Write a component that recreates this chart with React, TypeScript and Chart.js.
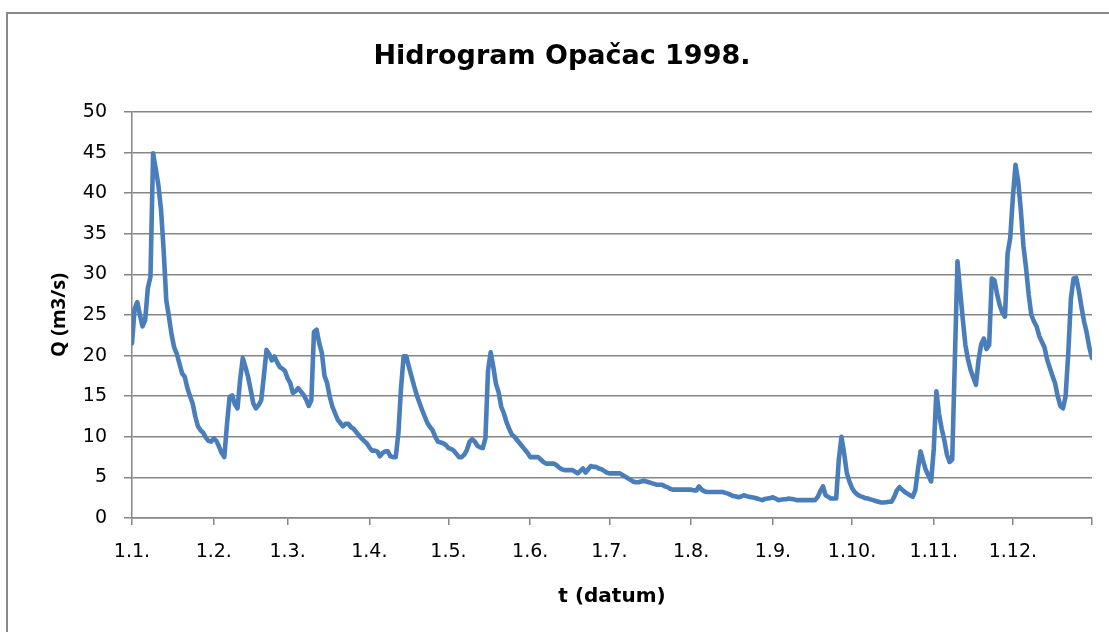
import React, { useEffect, useRef } from 'react';
import { Chart, registerables } from 'chart.js';

Chart.register(...registerables);

const CHART_TITLE = 'Hidrogram Opačac 1998.';
const X_TITLE = 't (datum)';
const Y_TITLE = 'Q (m3/s)';

// Day-of-year index (0 = 1 Jan) where each month starts; last entry = 31 Dec (axis end)
const monthStartDays = [0, 31, 59, 90, 120, 151, 181, 212, 243, 273, 304, 334, 364];
const monthLabels = ['1.1.', '1.2.', '1.3.', '1.4.', '1.5.', '1.6.', '1.7.', '1.8.', '1.9.', '1.10.', '1.11.', '1.12.', ''];

const yMin = 0;
const yMax = 50;
const yStep = 5;

// Daily discharge Q (m3/s), 1 Jan – 31 Dec 1998
const flow = [
  21.5, 25.8, 26.6, 25.0, 23.6, 24.4, 28.3, 29.7, 44.9, 43.0,
  41.0, 38.0, 33.0, 26.8, 24.8, 22.6, 21.0, 20.2, 19.0, 17.8,
  17.4, 16.0, 15.0, 14.1, 12.5, 11.3, 10.8, 10.5, 9.9, 9.5,
  9.4, 9.8, 9.5, 8.8, 8.0, 7.5, 11.5, 14.9, 15.1, 14.0,
  13.5, 17.0, 19.7, 18.6, 17.4, 15.8, 14.1, 13.5, 13.9, 14.5,
  17.5, 20.7, 20.2, 19.4, 19.9, 19.2, 18.6, 18.4, 18.1, 17.2,
  16.6, 15.4, 15.6, 16.0, 15.6, 15.2, 14.6, 13.8, 14.5, 22.9,
  23.2, 21.5, 20.3, 17.5, 16.6, 14.9, 13.7, 12.9, 12.1, 11.7,
  11.3, 11.6, 11.6, 11.2, 11.0, 10.6, 10.2, 9.8, 9.5, 9.2,
  8.7, 8.3, 8.3, 8.2, 7.6, 8.0, 8.2, 8.2, 7.6, 7.5,
  7.5, 10.4, 16.0, 19.9, 19.9, 18.6, 17.4, 16.2, 15.1, 14.2,
  13.3, 12.5, 11.7, 11.2, 10.8, 10.0, 9.4, 9.3, 9.2, 9.0,
  8.6, 8.5, 8.3, 7.9, 7.5, 7.5, 7.8, 8.4, 9.4, 9.7,
  9.4, 8.9, 8.7, 8.6, 9.8, 18.2, 20.4, 18.6, 16.5, 15.5,
  13.7, 12.9, 11.8, 11.0, 10.3, 10.0, 9.6, 9.2, 8.8, 8.4,
  8.0, 7.5, 7.5, 7.5, 7.5, 7.2, 6.9, 6.7, 6.7, 6.7,
  6.7, 6.5, 6.2, 6.0, 5.9, 5.9, 5.9, 5.9, 5.7, 5.5,
  5.8, 6.1, 5.6, 6.0, 6.4, 6.3, 6.3, 6.1, 6.0, 5.8,
  5.6, 5.5, 5.5, 5.5, 5.5, 5.5, 5.3, 5.1, 4.9, 4.7,
  4.5, 4.4, 4.4, 4.5, 4.6, 4.5, 4.4, 4.3, 4.2, 4.1,
  4.1, 4.1, 3.9, 3.8, 3.6, 3.5, 3.5, 3.5, 3.5, 3.5,
  3.5, 3.5, 3.5, 3.4, 3.4, 3.9, 3.5, 3.3, 3.2, 3.2,
  3.2, 3.2, 3.2, 3.2, 3.2, 3.1, 3.0, 2.85, 2.7, 2.65,
  2.55, 2.65, 2.8, 2.7, 2.6, 2.55, 2.5, 2.4, 2.3, 2.2,
  2.35, 2.4, 2.45, 2.55, 2.4, 2.2, 2.25, 2.3, 2.3, 2.4,
  2.35, 2.3, 2.2, 2.2, 2.2, 2.2, 2.2, 2.2, 2.2, 2.2,
  2.6, 3.3, 3.9, 2.8, 2.6, 2.4, 2.4, 2.4, 7.2, 10.0,
  8.0, 5.6, 4.5, 3.7, 3.2, 2.9, 2.7, 2.6, 2.45, 2.4,
  2.3, 2.2, 2.1, 2.0, 1.9, 1.9, 1.95, 2.0, 2.0, 2.6,
  3.4, 3.8, 3.5, 3.2, 3.0, 2.8, 2.6, 3.4, 6.0, 8.2,
  7.0, 5.9, 5.2, 4.5, 8.5, 15.6, 12.8, 11.0, 9.6, 7.8,
  6.9, 7.2, 19.5, 31.6, 28.0, 24.5, 21.3, 19.5, 18.2, 17.3,
  16.4, 19.5, 21.4, 22.1, 20.8, 21.3, 29.5, 29.3, 27.6, 26.2,
  25.3, 24.8, 32.6, 34.5, 39.5, 43.5, 41.5, 38.0, 33.5, 30.8,
  27.5, 25.0, 24.2, 23.6, 22.4, 21.7, 21.0, 19.5, 18.5, 17.5,
  16.6, 15.0, 13.8, 13.5, 15.0, 20.3, 27.0, 29.5, 29.6, 28.0,
  26.0, 24.2, 22.8, 21.0, 19.7,
];

const GRID = '#868686';

export default function App() {
  const ref = useRef<HTMLCanvasElement | null>(null);

  useEffect(() => {
    if (!ref.current) return;
    const textPlugin = {
      id: 'customText',
      afterDraw(chart: any) {
        const ctx = chart.ctx;
        const xs = chart.scales.x;
        ctx.save();
        // chart title
        ctx.font = 'bold 27px "DejaVu Sans"';
        ctx.fillStyle = '#000';
        ctx.textAlign = 'center';
        ctx.textBaseline = 'alphabetic';
        ctx.fillText(CHART_TITLE, 562, 64);
        // x tick labels (month starts), positioned by the x scale
        ctx.font = '19px "DejaVu Sans"';
        ctx.textBaseline = 'middle';
        monthStartDays.forEach((d, i) => {
          const label = monthLabels[i];
          if (!label) return;
          ctx.fillText(label, xs.getPixelForValue(d), 552);
        });
        ctx.restore();
      },
    };

    const chart = new Chart(ref.current, {
      type: 'line',
      data: {
        datasets: [
          {
            data: flow.map((v, i) => ({ x: i, y: v })),
            borderColor: '#4a7ebb',
            borderWidth: 4.6,
            pointRadius: 0,
            tension: 0,
            fill: false,
            borderJoinStyle: 'round',
            borderCapStyle: 'round',
          },
        ],
      },
      options: {
        animation: false,
        responsive: false,
        devicePixelRatio: 1,
        layout: { padding: { left: 0, top: 112, right: 17, bottom: 0 } },
        plugins: {
          legend: { display: false },
          tooltip: { enabled: false },
          title: { display: false },
        },
        scales: {
          x: {
            type: 'linear',
            min: monthStartDays[0],
            max: monthStartDays[monthStartDays.length - 1],
            afterBuildTicks: (axis: any) => {
              axis.ticks = monthStartDays.map((v) => ({ value: v }));
            },
            afterFit: (s: any) => {
              s.height = 114;
            },
            ticks: {
              display: false,
              autoSkip: false,
              maxRotation: 0,
              minRotation: 0,
            },
            grid: { drawOnChartArea: false, drawTicks: true, tickLength: 7, color: GRID, lineWidth: 1.5 },
            border: { color: GRID, width: 1.5 },
            title: {
              display: true,
              text: X_TITLE,
              color: '#000',
              font: { family: 'DejaVu Sans', size: 20, weight: 'bold' },
              padding: { top: 0, bottom: 23 },
            },
          },
          y: {
            min: yMin,
            max: yMax,
            afterFit: (s: any) => {
              s.width = 132;
            },
            ticks: {
              stepSize: yStep,
              padding: 17,
              color: '#000',
              font: { family: 'DejaVu Sans', size: 19 },
            },
            grid: { color: GRID, lineWidth: 1.5, tickLength: 8, drawTicks: true },
            border: { color: GRID, width: 1.5 },
            title: {
              display: true,
              text: Y_TITLE,
              color: '#000',
              font: { family: 'Open Sans', size: 20, weight: 'bold' },
              padding: { top: 47, bottom: 0 },
            },
          },
        },
      },
      plugins: [textPlugin],
    } as any);

    return () => chart.destroy();
  }, []);

  return (
    <div style={{ position: 'absolute', left: 0, top: 0, width: 1109, height: 632, overflow: 'hidden', background: '#fff' }}>
      <div
        style={{
          position: 'absolute',
          left: 6,
          top: 12,
          width: 1200,
          height: 700,
          border: '2px solid #898989',
          boxSizing: 'border-box',
        }}
      />
      <canvas ref={ref} width={1109} height={632} style={{ position: 'absolute', left: 0, top: 0, width: 1109, height: 632 }} />
    </div>
  );
}
